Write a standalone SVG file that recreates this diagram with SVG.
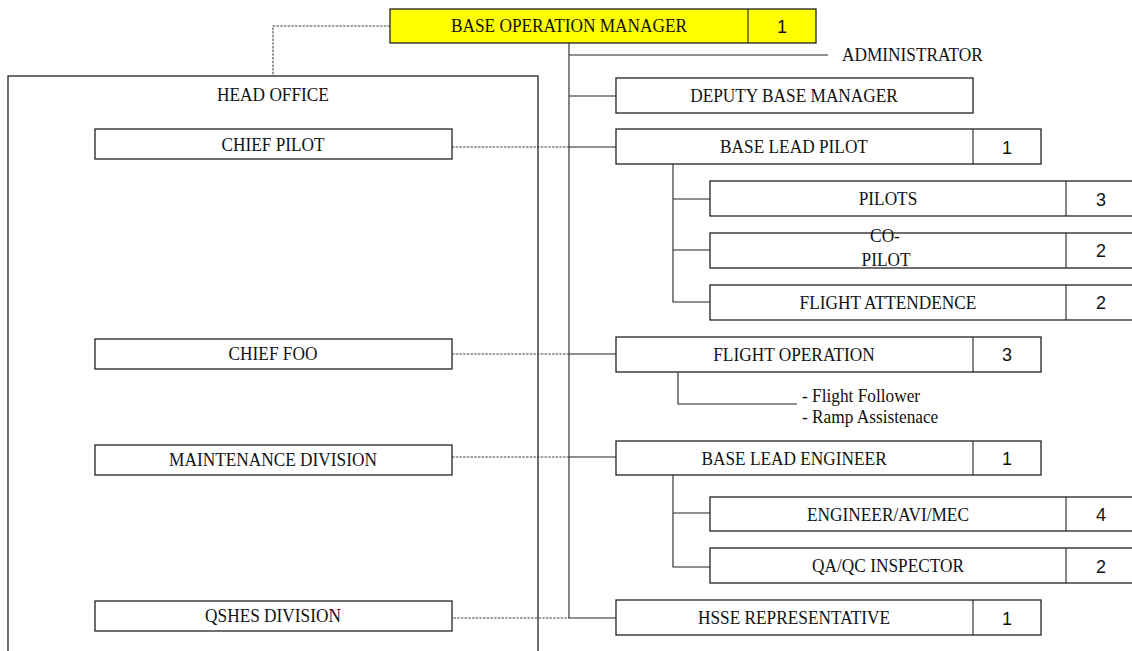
<svg xmlns="http://www.w3.org/2000/svg" width="1132" height="651" viewBox="0 0 1132 651">
<style>
.bx{fill:#fff;stroke:#222;stroke-width:1.3}
.yl{fill:#ffff00;stroke:#222;stroke-width:1.3}
.ln{fill:none;stroke:#222;stroke-width:1.1}
.ds{fill:none;stroke:#444;stroke-width:1.1;stroke-dasharray:2.5 1.2}
.t,.ts{font-family:"Liberation Serif","Times New Roman",serif;font-size:19px;fill:#111;transform-box:fill-box;transform:scaleX(0.91)}
.t{text-anchor:middle;transform-origin:center}
.ts{transform-origin:left center}
.n{font-family:"Liberation Sans",Arial,sans-serif;font-size:18px;fill:#111;text-anchor:middle}
</style>
<rect width="1132" height="651" fill="#fff"/>
<g id="head-office">
<rect class="bx" x="8" y="76" width="530" height="590"/>
<text class="t" x="273" y="101">HEAD OFFICE</text>
</g>
<g id="connectors">
<polyline class="ds" points="390,26 273,26 273,76"/>
<line class="ln" x1="569" y1="43" x2="569" y2="618"/>
<line class="ln" x1="569" y1="55" x2="828" y2="55"/>
<line class="ln" x1="569" y1="96" x2="616" y2="96"/>
<line class="ds" x1="452" y1="147" x2="569" y2="147"/>
<line class="ln" x1="569" y1="147" x2="616" y2="147"/>
<polyline class="ln" points="673,164 673,302 710,302"/>
<line class="ln" x1="673" y1="199" x2="710" y2="199"/>
<line class="ln" x1="673" y1="250" x2="710" y2="250"/>
<line class="ds" x1="452" y1="354" x2="569" y2="354"/>
<line class="ln" x1="569" y1="354" x2="616" y2="354"/>
<polyline class="ln" points="678,372 678,404 797,404"/>
<line class="ds" x1="452" y1="457" x2="569" y2="457"/>
<line class="ln" x1="569" y1="457" x2="616" y2="457"/>
<polyline class="ln" points="673,475 673,567 710,567"/>
<line class="ln" x1="673" y1="513" x2="710" y2="513"/>
<line class="ds" x1="446" y1="618" x2="569" y2="618"/>
<line class="ln" x1="569" y1="618" x2="616" y2="618"/>
</g>
<g id="base-operation-manager">
<rect class="yl" x="390" y="9" width="426" height="34"/>
<line class="ln" x1="748" y1="9" x2="748" y2="43"/>
<text class="t" x="569" y="32.5">BASE OPERATION MANAGER</text>
<text class="n" x="782" y="32.5">1</text>
</g>
<g id="administrator">
<text class="ts" x="842" y="61">ADMINISTRATOR</text>
</g>
<g id="chief-pilot">
<rect class="bx" x="95" y="129" width="357" height="30"/>
<text class="t" x="273" y="151.5">CHIEF PILOT</text>
</g>
<g id="chief-foo">
<rect class="bx" x="95" y="339" width="357" height="30"/>
<text class="t" x="273" y="360.5">CHIEF FOO</text>
</g>
<g id="maintenance-division">
<rect class="bx" x="95" y="445" width="357" height="30"/>
<text class="t" x="273" y="466.5">MAINTENANCE DIVISION</text>
</g>
<g id="qshes-division">
<rect class="bx" x="95" y="601" width="357" height="30"/>
<text class="t" x="273" y="622.5">QSHES DIVISION</text>
</g>
<g id="deputy-base-manager">
<rect class="bx" x="616" y="78" width="357" height="35"/>
<text class="t" x="794" y="102.5">DEPUTY BASE MANAGER</text>
</g>
<g id="base-lead-pilot">
<rect class="bx" x="616" y="129" width="425" height="35"/>
<line class="ln" x1="973" y1="129" x2="973" y2="164"/>
<text class="t" x="794" y="153.5">BASE LEAD PILOT</text>
<text class="n" x="1007" y="153.5">1</text>
</g>
<g id="pilots">
<rect class="bx" x="710" y="181" width="430" height="35"/>
<line class="ln" x1="1066" y1="181" x2="1066" y2="216"/>
<text class="t" x="888" y="205.5">PILOTS</text>
<text class="n" x="1101" y="205.5">3</text>
</g>
<g id="co-pilot">
<rect class="bx" x="710" y="233" width="430" height="35"/>
<line class="ln" x1="1066" y1="233" x2="1066" y2="268"/>
<text class="t" x="885" y="242">CO-</text>
<text class="t" x="886" y="266">PILOT</text>
<text class="n" x="1101" y="257">2</text>
</g>
<g id="flight-attendence">
<rect class="bx" x="710" y="285" width="430" height="35"/>
<line class="ln" x1="1066" y1="285" x2="1066" y2="320"/>
<text class="t" x="888" y="309">FLIGHT ATTENDENCE</text>
<text class="n" x="1101" y="309">2</text>
</g>
<g id="flight-operation">
<rect class="bx" x="616" y="337" width="425" height="35"/>
<line class="ln" x1="973" y1="337" x2="973" y2="372"/>
<text class="t" x="794" y="361">FLIGHT OPERATION</text>
<text class="n" x="1007" y="361">3</text>
</g>
<g id="flight-operation-roles">
<text class="ts" x="802" y="402">- Flight Follower</text>
<text class="ts" x="802" y="423">- Ramp Assistenace</text>
</g>
<g id="base-lead-engineer">
<rect class="bx" x="616" y="441" width="425" height="34"/>
<line class="ln" x1="973" y1="441" x2="973" y2="475"/>
<text class="t" x="794" y="465">BASE LEAD ENGINEER</text>
<text class="n" x="1007" y="465">1</text>
</g>
<g id="engineer-avi-mec">
<rect class="bx" x="710" y="497" width="430" height="34"/>
<line class="ln" x1="1066" y1="497" x2="1066" y2="531"/>
<text class="t" x="888" y="521">ENGINEER/AVI/MEC</text>
<text class="n" x="1101" y="521">4</text>
</g>
<g id="qa-qc-inspector">
<rect class="bx" x="710" y="548" width="430" height="35"/>
<line class="ln" x1="1066" y1="548" x2="1066" y2="583"/>
<text class="t" x="888" y="572.5">QA/QC INSPECTOR</text>
<text class="n" x="1101" y="572.5">2</text>
</g>
<g id="hsse-representative">
<rect class="bx" x="616" y="600" width="425" height="35"/>
<line class="ln" x1="973" y1="600" x2="973" y2="635"/>
<text class="t" x="794" y="624.5">HSSE REPRESENTATIVE</text>
<text class="n" x="1007" y="624.5">1</text>
</g>
</svg>
